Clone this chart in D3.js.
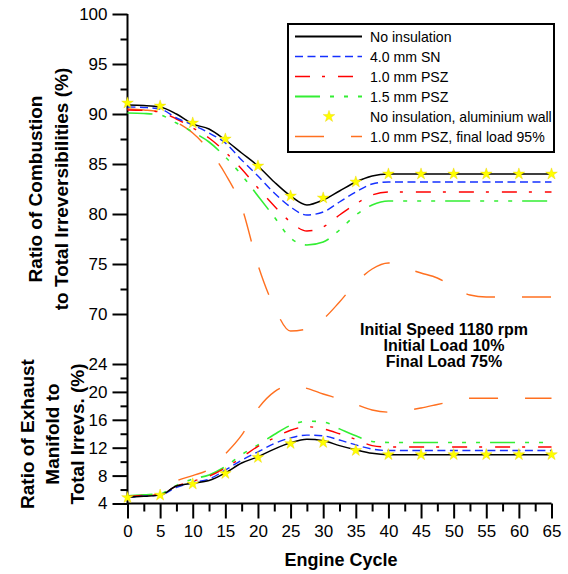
<!DOCTYPE html>
<html>
<head>
<meta charset="utf-8">
<script src="https://cdn.jsdelivr.net/npm/d3@7"></script>
<style>
  body { margin: 0; background: #fff; }
  svg { font-family: "Liberation Sans", Arial, Helvetica, sans-serif; }
</style>
</head>
<body>
<svg width="568" height="574"></svg>
<script>
// engine cycles where the curves were read
const cycles = [0, 2.5, 5, 7.5, 10, 12.5, 15, 17.5, 20, 22.5, 25, 27.5, 30, 32.5, 35, 37.5, 40,
  42.5, 45, 47.5, 50, 52.5, 55, 57.5, 60, 62.5, 65];

// top panel: combustion / total irreversibilities (%)
const noInsTop = [90.9, 90.85, 90.7, 90.0, 89.0, 88.5, 87.4, 86.1, 84.8, 83.2, 81.8, 80.9, 81.4, 82.3, 83.2, 83.8, 84.0,
  84.0, 84.0, 84.0, 84.0, 84.0, 84.0, 84.0, 84.0, 84.0, 84.0];
const sn40Top = [90.7, 90.65, 90.5, 89.6, 88.9, 88.1, 87.1, 85.4, 83.8, 82.1, 80.7, 79.9, 80.2, 81.2, 82.2, 83.0, 83.2,
  83.2, 83.2, 83.2, 83.2, 83.2, 83.2, 83.2, 83.2, 83.2, 83.2];
const psz10Top = [90.4, 90.35, 90.2, 89.5, 88.6, 87.6, 86.2, 84.5, 82.6, 80.8, 79.2, 78.3, 78.7, 79.9, 81.0, 81.9, 82.2,
  82.2, 82.2, 82.2, 82.2, 82.2, 82.2, 82.2, 82.2, 82.2, 82.2];
const psz15Top = [90.1, 90.05, 89.9, 89.1, 88.2, 87.2, 85.7, 83.9, 81.8, 79.7, 77.6, 76.9, 77.2, 78.4, 79.9, 80.9, 81.3,
  81.3, 81.3, 81.3, 81.3, 81.3, 81.3, 81.3, 81.3, 81.3, 81.3];
const psz95Top = [90.5, 90.4, 90.2, 89.2, 88.1, 86.4, 84.0, 80.7, 74.9, 70.7, 68.3, 68.5, 69.5, 71.2, 73.1, 74.5, 75.1,
  74.6, 74.1, 73.6, 72.7, 71.9, 71.7, 71.7, 71.7, 71.7, 71.7];

// bottom panel: exhaust manifold / total irreversibilities (%)
const noInsBot = [4.9, 5.05, 5.2, 6.5, 6.9, 7.3, 8.4, 9.8, 10.7, 11.8, 12.7, 13.2, 13.0, 12.3, 11.7, 11.2, 11.0,
  11.0, 11.0, 11.0, 11.0, 11.0, 11.0, 11.0, 11.0, 11.0, 11.0];
const sn40Bot = [4.9, 5.05, 5.2, 6.3, 7.0, 7.5, 8.8, 10.2, 11.4, 12.6, 13.4, 13.8, 13.7, 13.1, 12.4, 11.8, 11.6,
  11.6, 11.6, 11.6, 11.6, 11.6, 11.6, 11.6, 11.6, 11.6, 11.6];
const psz10Bot = [5.0, 5.15, 5.3, 6.5, 7.2, 7.9, 9.1, 10.6, 12.2, 13.4, 14.5, 15.0, 14.7, 14.0, 13.2, 12.3, 12.1,
  12.1, 12.1, 12.1, 12.1, 12.1, 12.1, 12.1, 12.1, 12.1, 12.1];
const psz15Bot = [5.1, 5.25, 5.4, 6.6, 7.5, 8.1, 9.3, 11.0, 12.4, 13.9, 15.2, 15.8, 15.7, 14.7, 13.7, 12.9, 12.75,
  12.75, 12.75, 12.75, 12.75, 12.75, 12.75, 12.75, 12.75, 12.75, 12.75];
const psz95Bot = [5.0, 5.15, 5.3, 7.2, 8.0, 8.9, 11.1, 13.8, 17.6, 20.0, 20.9, 20.5, 19.7, 19.0, 18.2, 17.4, 17.1,
  17.3, 17.7, 18.2, 18.7, 19.1, 19.1, 19.1, 19.1, 19.1, 19.1];

// aluminium wall (stars), every 5 cycles
const starCycles = [0, 5, 10, 15, 20, 25, 30, 35, 40, 45, 50, 55, 60, 65];
const aluTop = [91.1, 90.8, 89.1, 87.5, 84.8, 81.8, 81.6, 83.2, 84.0, 84.0, 84.0, 84.0, 84.0, 84.0];
const aluBot = [4.85, 5.2, 6.8, 8.3, 10.6, 12.6, 12.75, 11.6, 11.0, 11.0, 11.0, 11.0, 11.0, 11.0];

const topTicks = [70, 75, 80, 85, 90, 95, 100];
const botTicks = [4, 8, 12, 16, 20, 24];
const xTicks = [0, 5, 10, 15, 20, 25, 30, 35, 40, 45, 50, 55, 60, 65];

const seriesNames = ["No insulation", "4.0 mm SN", "1.0 mm PSZ", "1.5 mm PSZ",
  "No insulation, aluminium wall", "1.0 mm PSZ, final load 95%"];

const series = [
  { name: seriesNames[0], top: noInsTop, bot: noInsBot, color: "#000", dash: null, w: 1.5 },
  { name: seriesNames[1], top: sn40Top, bot: sn40Bot, color: "#1530ff", dash: "8,4.5", w: 1.4 },
  { name: seriesNames[2], top: psz10Top, bot: psz10Bot, color: "#ff0000", dash: "15,12,3,13", w: 1.4 },
  { name: seriesNames[3], top: psz15Top, bot: psz15Bot, color: "#33ee33", dash: "25,10,4,10,4,10,4,10", w: 1.6 },
  { name: seriesNames[5], top: psz95Top, bot: psz95Bot, color: "#ff7020", dash: "29,27", w: 1.4 }
];

const svg = d3.select("svg");

const x = d3.scaleLinear().domain([0, 65]).range([127.5, 551.5]);
const yTop = d3.scaleLinear().domain([70, 100]).range([314, 14]);
const yBot = d3.scaleLinear().domain([4, 24]).range([503.5, 364]);

// ejes
function styleAxis(g) {
  g.select(".domain").remove();
  g.selectAll(".tick line").attr("stroke", "#000").attr("stroke-width", 2);
  g.selectAll(".tick text").attr("fill", "#000").style("font-size", "17px");
}

svg.append("g").attr("transform", `translate(${x(0)},0)`)
  .call(d3.axisLeft(yTop).tickValues(topTicks).tickSize(15).tickPadding(5))
  .call(styleAxis);
svg.append("g").attr("transform", `translate(${x(0)},0)`)
  .call(d3.axisLeft(yTop).tickValues(topTicks.slice(0, -1).map(d => d + 2.5)).tickSize(7).tickFormat(""))
  .call(styleAxis);
svg.append("g").attr("transform", `translate(${x(0)},0)`)
  .call(d3.axisLeft(yBot).tickValues(botTicks).tickSize(15).tickPadding(5))
  .call(styleAxis);
svg.append("g").attr("transform", `translate(${x(0)},0)`)
  .call(d3.axisLeft(yBot).tickValues(botTicks.slice(0, -1).map(d => d + 2)).tickSize(7).tickFormat(""))
  .call(styleAxis);

svg.append("g").attr("transform", `translate(0,${yBot(4)})`)
  .call(d3.axisBottom(x).tickValues(xTicks).tickSize(15).tickPadding(6))
  .call(styleAxis);
svg.append("g").attr("transform", `translate(0,${yBot(4)})`)
  .call(d3.axisBottom(x).tickValues(xTicks.slice(0, -1).map(d => d + 2.5)).tickSize(8).tickFormat(""))
  .call(styleAxis);

svg.append("line")
  .attr("x1", x(0)).attr("x2", x(0))
  .attr("y1", yTop(100)).attr("y2", yBot(4))
  .attr("stroke", "#000").attr("stroke-width", 2);
svg.append("line")
  .attr("x1", x(0)).attr("x2", x(65))
  .attr("y1", yBot(4)).attr("y2", yBot(4))
  .attr("stroke", "#000").attr("stroke-width", 2);

// curvas
const lineTop = d3.line().x((d, i) => x(cycles[i])).y(d => yTop(d)).curve(d3.curveMonotoneX);
const lineBot = d3.line().x((d, i) => x(cycles[i])).y(d => yBot(d)).curve(d3.curveMonotoneX);

const drawOrder = [4, 3, 2, 1, 0];
drawOrder.forEach(k => {
  const s = series[k];
  [[s.top, lineTop], [s.bot, lineBot]].forEach(([vals, gen]) => {
    svg.append("path")
      .attr("d", gen(vals))
      .attr("fill", "none")
      .attr("stroke", s.color)
      .attr("stroke-width", s.w)
      .attr("stroke-dasharray", s.dash);
  });
});

// estrellas (pared de aluminio)
const star = d3.symbol().type(d3.symbolStar).size(42);
const stars = starCycles.map((c, i) => [c, aluTop[i], aluBot[i]]);
svg.selectAll(".starTop").data(stars).enter().append("path")
  .attr("class", "starTop")
  .attr("d", star)
  .attr("transform", d => `translate(${x(d[0])},${yTop(d[1])})`)
  .attr("fill", "#ffff00").attr("stroke", "#e8d000").attr("stroke-width", 0.4);
svg.selectAll(".starBot").data(stars).enter().append("path")
  .attr("class", "starBot")
  .attr("d", star)
  .attr("transform", d => `translate(${x(d[0])},${yBot(d[2])})`)
  .attr("fill", "#ffff00").attr("stroke", "#e8d000").attr("stroke-width", 0.4);

// leyenda
const legend = svg.append("g");
legend.append("rect")
  .attr("x", 288).attr("y", 24).attr("width", 266).attr("height", 128)
  .attr("fill", "#fff").attr("stroke", "#000").attr("stroke-width", 2);

const legendRows = [series[0], series[1], series[2], series[3], null, series[4]];
legendRows.forEach((s, i) => {
  const ly = 36.5 + i * 20;
  if (s) {
    legend.append("line")
      .attr("x1", 295).attr("x2", 362).attr("y1", ly).attr("y2", ly)
      .attr("stroke", s.color).attr("stroke-width", s.w + 0.3)
      .attr("stroke-dasharray", s.dash);
  } else {
    legend.append("path").attr("d", star)
      .attr("transform", `translate(329,${ly})`)
      .attr("fill", "#ffff00").attr("stroke", "#e8d000").attr("stroke-width", 0.4);
  }
  legend.append("text")
    .attr("x", 370).attr("y", ly + 5)
    .style("font-size", "14.1px")
    .text(seriesNames[i]);
});

// textos
const note = ["Initial Speed 1180 rpm", "Initial Load 10%", "Final Load 75%"];
svg.selectAll(".note").data(note).enter().append("text")
  .attr("class", "note")
  .attr("x", 444).attr("y", (d, i) => 334.5 + i * 16.3)
  .attr("text-anchor", "middle")
  .style("font-size", "16px").style("font-weight", "bold")
  .text(d => d);

function vTitle(lines, cx0, step, cy) {
  lines.forEach((t, i) => {
    svg.append("text")
      .attr("transform", `translate(${cx0 + i * step},${cy}) rotate(-90)`)
      .attr("text-anchor", "middle")
      .style("font-size", "19px").style("font-weight", "bold")
      .text(t);
  });
}
vTitle(["Ratio of Combustion", "to Total Irreversibilities (%)"], 42, 26, 189);
vTitle(["Ratio of Exhaust", "Manifold to", "Total Irrevs. (%)"], 34, 25, 434);

svg.append("text")
  .attr("x", 341).attr("y", 566)
  .attr("text-anchor", "middle")
  .style("font-size", "18px").style("font-weight", "bold")
  .text("Engine Cycle");
</script>
</body>
</html>
